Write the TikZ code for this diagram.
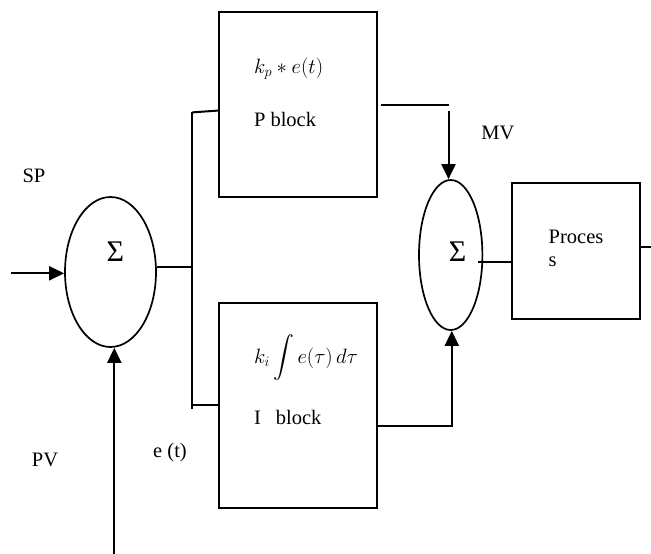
\documentclass[tikz,border=0pt]{standalone}
\usepackage{amsmath}
\usepackage{fontspec}
\setmainfont{Liberation Serif}
\usetikzlibrary{shapes.geometric,arrows.meta}
\begin{document}
\begin{tikzpicture}[x=1pt,y=-1pt,
  line width=2pt,
  blk/.style={draw,rectangle,inner sep=0pt},
  sumnode/.style={draw,ellipse,inner sep=0pt,line width=1.7pt},
  lbl/.style={anchor=base west,inner sep=0pt,font=\fontsize{20.5}{24}\selectfont},
  sig/.style={inner sep=0pt,font=\fontsize{30}{30}\selectfont},
  arr/.style={-{Triangle[length=15pt,width=14pt]}},
]
\useasboundingbox (0,0) rectangle (651,554);
% blocks
\node[blk,minimum width=157.5pt,minimum height=185pt] (pblk) at (298,104.5) {};
\node[blk,minimum width=157.5pt,minimum height=205pt] (iblk) at (298,405.7) {};
\node[blk,minimum width=128.6pt,minimum height=136pt] (proc) at (576,251.3) {};
\node[sumnode,minimum width=91pt,minimum height=150pt] (sum1) at (110.5,272) {};
\node[sumnode,minimum width=63.4pt,minimum height=150pt] (sum2) at (450.7,255) {};
% sigma signs
\node[sig] (sig1) at (115.3,251.5) {Σ};
\node[sig] (sig2) at (457.5,251.6) {Σ};
% texts
\node[lbl] (kp) at (253,73) {$k_p * e(t)$};
\node[lbl] (ptxt) at (253,126) {P block};
\node[lbl] (ki) at (253,363) {$\displaystyle k_i \int e(\tau)\, d\tau$};
\node[lbl] (itxt) at (253,424) {I\hspace{15pt}block};
\node[lbl] (proc1) at (547.7,243) {Proces};
\node[lbl] (proc2) at (547.7,266.7) {s};
\node[lbl,anchor=base] (sp) at (34,182) {SP};
\node[lbl,anchor=base] (pv) at (45,466.7) {PV};
\node[lbl,anchor=base] (et) at (170,457) {e (t)};
\node[lbl,anchor=base] (mv) at (498,139) {MV};
% connectors
\coordinate (spin) at (11,273.3);
\draw[arr] (spin) -- (spin -| sum1.west);
\coordinate (pvin) at (114.3,554);
\draw[arr] (pvin) -- (pvin |- sum1.south);
\coordinate (busmid) at (192.3,266.7);
\draw (sum1.east |- busmid) -- (busmid);
\coordinate (bustop) at (192.3,112.4);
\coordinate (busbot) at (192.3,409.3);
\draw (bustop) -- (busbot);
\coordinate (pin) at (219,110.5);
\draw (bustop) -- (pin);
\coordinate (busi) at (192.3,405);
\draw (busi) -- (busi -| iblk.west);
\coordinate (pa) at (381.3,105.3);
\coordinate (pb) at (449,105.3);
\draw (pa) -- (pb);
\coordinate (mvtop) at (448.5,110.7);
\draw[arr] (mvtop) -- (mvtop |- sum2.north);
\coordinate (icorner) at (451.8,425.8);
\draw[arr] (icorner -| iblk.east) -- (icorner) -- (icorner |- sum2.south);
\coordinate (s2o) at (478.3,261.7);
\draw (s2o) -- (s2o -| proc.west);
\coordinate (pout) at (651,246.7);
\draw (pout -| proc.east) -- (pout);
\end{tikzpicture}
\end{document}
